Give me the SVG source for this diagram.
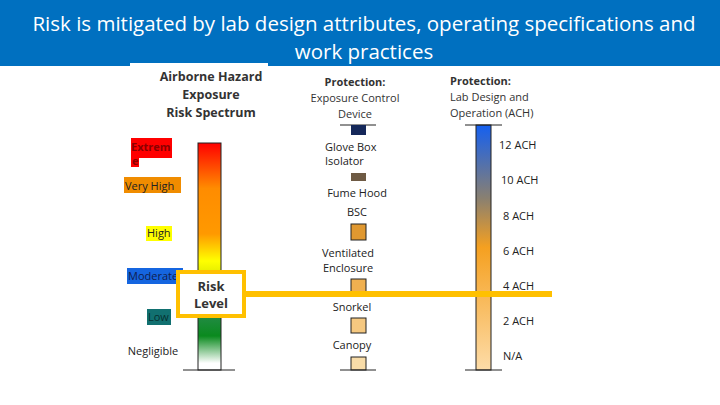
<svg xmlns="http://www.w3.org/2000/svg" width="720" height="405" viewBox="0 0 720 405">
<defs>
<linearGradient id="risk" x1="0" y1="0" x2="0" y2="1">
<stop offset="0" stop-color="#FF0000"/><stop offset="0.2" stop-color="#FF8C00"/><stop offset="0.4" stop-color="#FF9900"/><stop offset="0.52" stop-color="#FFFF00"/><stop offset="0.62" stop-color="#CCDD00"/><stop offset="0.66" stop-color="#1E6FD9"/><stop offset="0.72" stop-color="#2E8B57"/><stop offset="0.85" stop-color="#0A8A1E"/><stop offset="0.97" stop-color="#FFFFFF"/>
</linearGradient>
<linearGradient id="ach" x1="0" y1="0" x2="0" y2="1">
<stop offset="0" stop-color="#1560F0"/><stop offset="0.3" stop-color="#8A8070"/><stop offset="0.5" stop-color="#F5A020"/><stop offset="1" stop-color="#FDDCA8"/>
</linearGradient>
<style>
text{font-family:"Open Sans","Liberation Sans",sans-serif;font-size:11px;fill:#222}
.h{font-size:12.5px;font-weight:bold;fill:#333}
.h2{font-size:11px;fill:#333}
.ln{stroke:#222;stroke-width:1}
.bar{stroke:#222;stroke-width:1}
</style>
</defs>
<rect width="720" height="405" fill="#fff"/>
<g id="title">
<rect x="0" y="0" width="720" height="66" fill="#0070C0"/>
<rect x="130" y="63" width="138" height="8" fill="#fff"/>
<text x="364" y="31" text-anchor="middle" style="font-size:20.5px;fill:#fff">Risk is mitigated by lab design attributes, operating specifications and</text>
<text x="364" y="59" text-anchor="middle" style="font-size:20.5px;fill:#fff">work practices</text>
</g>
<g id="risk-spectrum">
<text class="h" x="211" y="81" text-anchor="middle">Airborne Hazard</text>
<text class="h" x="211" y="99" text-anchor="middle">Exposure</text>
<text class="h" x="211" y="117" text-anchor="middle">Risk Spectrum</text>
<rect x="198" y="143" width="23" height="227" fill="url(#risk)" class="bar"/>
<line x1="183" y1="370" x2="235" y2="370" class="ln"/>
<path d="M131 138H172V158H139V167H131Z" fill="#FF0000"/>
<text x="131" y="151" style="fill:#8B0000;font-weight:bold">Extrem</text>
<text x="132" y="165" style="fill:#8B0000;font-weight:bold">e</text>
<rect x="124" y="177" width="57" height="16" fill="#F08C00"/>
<text x="125" y="190">Very High</text>
<rect x="146" y="226" width="26" height="15" fill="#FFFF00"/>
<text x="147" y="237">High</text>
<rect x="127" y="268" width="56" height="16" fill="#1565E0"/>
<text x="128" y="280" style="fill:#102050">Moderate</text>
<rect x="147" y="309" width="24" height="16" fill="#117070"/>
<text x="148" y="321" style="fill:#063030">Low</text>
<text x="153" y="355" text-anchor="middle">Negligible</text>
</g>
<g id="devices">
<text class="h2" x="355" y="86" text-anchor="middle" style="font-weight:bold">Protection:</text>
<text class="h2" x="355" y="102" text-anchor="middle">Exposure Control</text>
<text class="h2" x="355" y="118" text-anchor="middle">Device</text>
<line x1="340" y1="125" x2="376" y2="125" class="ln"/>
<rect x="351" y="125" width="15" height="10" fill="#15285A"/>
<text x="325" y="151">Glove Box</text>
<text x="325" y="165">Isolator</text>
<rect x="351" y="173" width="15" height="8" fill="#6E5A44"/>
<text x="357" y="197" text-anchor="middle">Fume Hood</text>
<text x="357" y="216" text-anchor="middle">BSC</text>
<rect x="351" y="224" width="15" height="16" fill="#E09830" class="bar"/>
<text x="348" y="257" text-anchor="middle">Ventilated</text>
<text x="348" y="272" text-anchor="middle">Enclosure</text>
<rect x="351" y="279" width="15" height="14" fill="#F0B050" class="bar"/>
<text x="352" y="311" text-anchor="middle">Snorkel</text>
<rect x="351" y="318" width="15" height="15" fill="#F5C880" class="bar"/>
<text x="352" y="349" text-anchor="middle">Canopy</text>
<rect x="351" y="357" width="15" height="13" fill="#F8DCA8" class="bar"/>
<line x1="340" y1="370" x2="376" y2="370" class="ln"/>
</g>
<g id="ach">
<text class="h2" x="450" y="85" style="font-weight:bold">Protection:</text>
<text class="h2" x="450" y="101">Lab Design and</text>
<text class="h2" x="450" y="117">Operation (ACH)</text>
<rect x="476" y="125" width="15" height="245" fill="url(#ach)" class="bar"/>
<line x1="465" y1="125" x2="502" y2="125" class="ln"/>
<line x1="465" y1="370" x2="502" y2="370" class="ln"/>
<text x="499" y="149">12 ACH</text>
<text x="501" y="184">10 ACH</text>
<text x="503" y="220">8 ACH</text>
<text x="503" y="255">6 ACH</text>
<text x="503" y="290">4 ACH</text>
<text x="503" y="325">2 ACH</text>
<text x="503" y="360">N/A</text>
</g>
<g id="connectors">
<line x1="246" y1="294" x2="552" y2="294" stroke="#FFC000" stroke-width="6"/>
</g>
<g id="risk-level">
<rect x="178" y="272" width="66" height="44" fill="#fff" stroke="#FFC000" stroke-width="4"/>
<text x="211" y="291" text-anchor="middle" style="font-size:13px;font-weight:bold;fill:#333">Risk</text>
<text x="211" y="308" text-anchor="middle" style="font-size:13px;font-weight:bold;fill:#333">Level</text>
</g>
</svg>
